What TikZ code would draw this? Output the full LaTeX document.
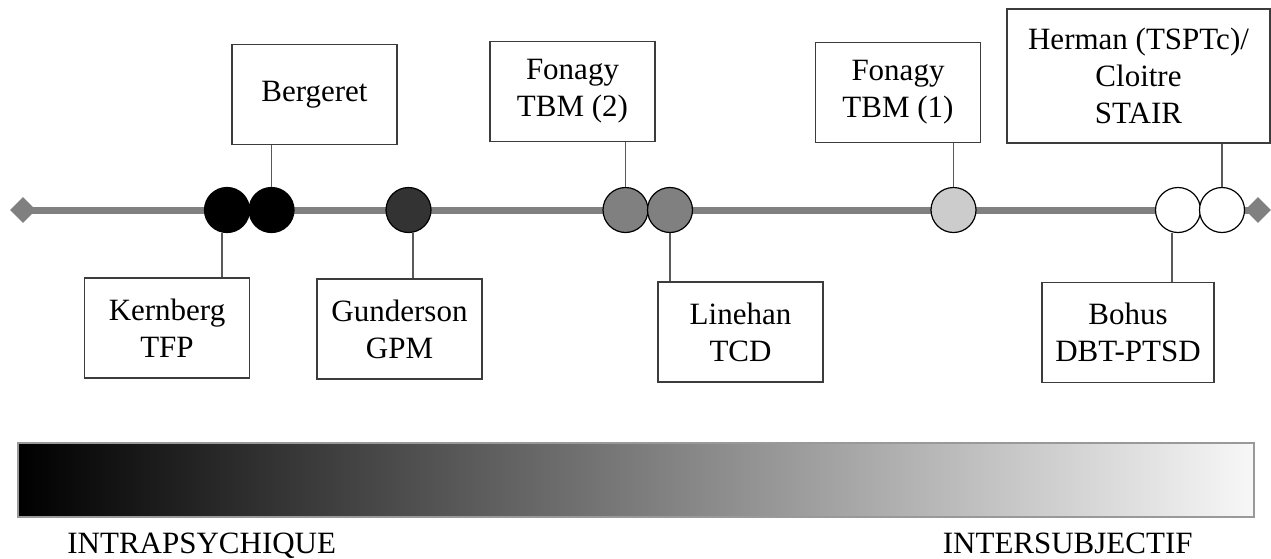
\documentclass[tikz,border=0pt]{standalone}
\usepackage{fontspec}
\setmainfont{Liberation Serif}
\usetikzlibrary{shapes.geometric}
\definecolor{axisgray}{HTML}{808080}
\definecolor{darkdot}{HTML}{333333}
\definecolor{middot}{HTML}{808080}
\definecolor{lightdot}{HTML}{CCCCCC}
\definecolor{framegray}{HTML}{3C3C3C}
\tikzset{
  ptdot/.style={circle,draw=black,line width=0.6pt,minimum size=22.5pt,inner sep=0pt},
  namebox/.style={draw=framegray,line width=0.6pt,fill=white,minimum width=82.5pt,minimum height=50pt,align=center,inner sep=2pt,font=\fontsize{15.5}{18.5}\selectfont},
  linkline/.style={draw=black!65,line width=0.6pt},
  endmark/.style={diamond,fill=axisgray,inner sep=0pt,minimum size=13pt},
  poletext/.style={inner sep=0pt,font=\fontsize{15.5}{18.5}\selectfont}
}
\begin{document}
\begin{tikzpicture}[x=0.5pt,y=-0.5pt]
\useasboundingbox (0,0) rectangle (1271,558);
\node[endmark] (ld) at (23,210) {};
\node[endmark] (rd) at (1258,210) {};
\draw[axisgray,line width=3.5pt] (ld.center) -- (rd.center);
\node[ptdot,fill=black] (kern) at (227,210) {};
\node[ptdot,fill=black] (berg) at (271.5,210) {};
\node[ptdot,fill=darkdot] (gund) at (408.5,210) {};
\node[ptdot,fill=middot] (fontwo) at (625.5,210) {};
\node[ptdot,fill=middot] (line) at (670,210) {};
\node[ptdot,fill=lightdot] (fonone) at (953.5,210) {};
\node[ptdot,fill=white] (bohu) at (1178,210) {};
\node[ptdot,fill=white] (herm) at (1222,210) {};
\node[namebox] (bergeret) at (314.5,94.5) {Bergeret};
\node[namebox] (kernberg) at (167,328) {Kernberg\\TFP};
\node[namebox] (gunderson) at (399.5,329) {Gunderson\\GPM};
\node[namebox] (fonagytwo) at (572.5,91.5) {Fonagy\\TBM (2)};
\node[namebox] (linehan) at (740.5,332) {Linehan\\TCD};
\node[namebox] (fonagyone) at (898,92.5) {Fonagy\\TBM (1)};
\node[namebox,minimum width=131.5pt,minimum height=67pt] (herman) at (1138.5,76) {Herman (TSPTc)/\\Cloitre\\STAIR};
\node[namebox,minimum width=86pt] (bohus) at (1128,332.5) {Bohus\\DBT-PTSD};
\draw[linkline] (berg.north) -- (berg.north |- bergeret.south);
\draw[linkline] ([xshift=-2.5pt]kern.south) -- ([xshift=-2.5pt]kern.south |- kernberg.north);
\draw[linkline] ([xshift=2.25pt]gund.south) -- ([xshift=2.25pt]gund.south |- gunderson.north);
\draw[linkline] (fontwo.north) -- (fontwo.north |- fonagytwo.south);
\draw[linkline] (line.south) -- (line.south |- linehan.north);
\draw[linkline] (fonone.north) -- (fonone.north |- fonagyone.south);
\draw[linkline] (herm.north) -- (herm.north |- herman.south);
\draw[linkline] ([xshift=-3pt]bohu.south) -- ([xshift=-3pt]bohu.south |- bohus.north);
\shade[left color=black,right color=black!3,draw=black!40,line width=0.6pt] (18,443) rectangle (1254,517);
\node[poletext,anchor=base west] (intra) at (67,553) {INTRAPSYCHIQUE};
\node[poletext,anchor=base east] (inter) at (1193,553) {INTERSUBJECTIF};
\end{tikzpicture}
\end{document}
